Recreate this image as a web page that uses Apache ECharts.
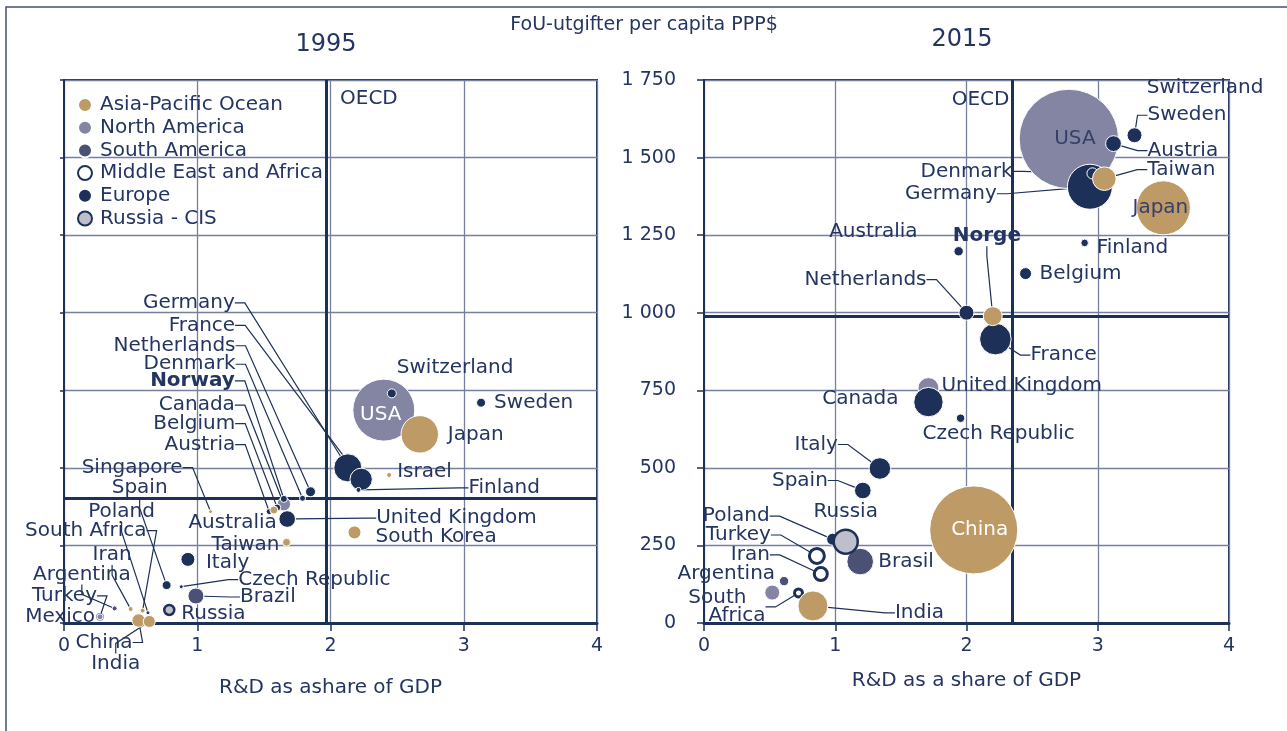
<!DOCTYPE html>
<html><head><meta charset="utf-8">
<script src="https://cdn.jsdelivr.net/npm/echarts@6/dist/echarts.min.js"></script>
<style>html,body{margin:0;padding:0;background:#fff}#c{width:1287px;height:731px}</style>
</head><body><div id="c"></div>
<script>
// ---------- DATA ----------
const regions = ['Asia-Pacific Ocean','North America','South America','Middle East and Africa','Europe','Russia - CIS'];
const xTickMax = 4, xTickStep = 1, yTickMax = 1750, yTickStep = 250;

// 1995: R&D share of GDP (x), R&D per capita PPP$ (y), R&D spend bn PPP$ (bubble), region index
const names1995  = ['USA','Switzerland','Sweden','Japan','Germany','France','Finland','Israel','Netherlands','Denmark','Norway','Canada','Belgium','Austria','Australia','United Kingdom','South Korea','Taiwan','Singapore','Italy','Spain','Czech Republic','Brazil','Russia','Argentina','Mexico','Turkey','Iran','South Africa','Poland','China','India'];
const share1995  = [2.40,2.46,3.13,2.67,2.13,2.23,2.21,2.44,1.85,1.79,1.65,1.65,1.60,1.54,1.575,1.675,2.18,1.67,1.10,0.93,0.77,0.88,0.99,0.79,0.38,0.27,0.27,0.50,0.59,0.63,0.56,0.64];
const capita1995 = [686,740,710,608,500,463,429,477,423,402,400,383,372,359,364,335,292,260,359,205,122,117,87,42,47,20,20,45,40,33,8,5];
const spend1995  = [200,4.2,4.2,73,41,26,1.3,1.3,5.2,1.9,2.6,9.4,2.6,1.9,3.3,14.4,8.8,3.3,0.8,10.2,4.2,0.8,13.3,5.2,1.3,1.9,1.0,1.3,1.3,0.8,9.4,7.5];
const region1995 = [1,4,4,0,4,4,4,0,4,4,4,1,4,4,0,4,0,0,0,4,4,4,2,5,2,1,3,0,0,4,0,0];
const oecd1995 = [1.97, 403];

// 2015
const names2015  = ['USA','Sweden','Austria','Denmark','Taiwan','Germany','Japan','Finland','Belgium','Australia','Netherlands','Norge','France','Canada','United Kingdom','Czech Republic','Italy','Spain','China','Poland','Russia','Brasil','Turkey','Iran','Argentina','Mexico','South Africa','India'];
const share2015  = [2.78,3.28,3.12,2.96,3.05,2.94,3.50,2.90,2.45,1.94,2.00,2.20,2.22,1.71,1.71,1.955,1.34,1.21,2.055,0.98,1.08,1.19,0.86,0.89,0.61,0.52,0.72,0.83];
const capita2015 = [1560,1572,1545,1449,1432,1406,1338,1225,1126,1198,1000,989,915,757,712,660,498,427,300,270,262,198,216,158,135,98,97,55];
const spend2015  = [515,11.7,13,6.5,29,105.6,152,3.0,7.5,4.6,11.7,18.8,52,23,45,3.7,24.3,14.4,404,7.5,30,36.9,11.7,8.8,4.6,11.7,3.3,47];
const region2015 = [1,4,4,4,0,4,0,4,4,4,4,0,4,1,4,4,4,4,0,4,5,2,3,3,2,1,3,0];
const oecd2015 = [2.354, 988];
const offChart2015 = ['Switzerland'];

// ---------- LABEL LAYOUT (offsets from bubble centre, px) ----------
const labels1995 = {
 'USA':[-3,5,'center',0],'Switzerland':[5,-26,'left',0],'Sweden':[13,0,'left',0],'Japan':[28,0,'left',0],
 'Germany':[-113,-165,'right',1],'France':[-126,-154,'right',1],'Finland':[110,-2,'left',1],'Israel':[8,-3,'left',0],
 'Netherlands':[-75,-146,'right',1],'Denmark':[-67,-134,'right',1],'Norway':[-49,-118,'right',1],'Canada':[-49,-99,'right',1],
 'Belgium':[-42,-84,'right',1],'Austria':[-34,-67,'right',1],'Australia':[3,13,'right',0],'United Kingdom':[89,-1,'left',1],
 'South Korea':[21,4,'left',0],'Taiwan':[-7,2,'right',0],'Singapore':[-28,-44,'right',1],'Italy':[18,3,'left',0],
 'Spain':[1,-97,'right',1],'Czech Republic':[57,-7,'left',1],'Brazil':[44,1,'left',1],'Russia':[12,4,'left',0],
 'Argentina':[16,-34,'right',1],'Mexico':[-5,0,'right',0],'Turkey':[-3,-21,'right',1],'Iran':[1,-54,'right',1],
 'South Africa':[4,-80,'right',1],'Poland':[7,-101,'right',1],'China':[-6,22,'right',1],'India':[-9,42,'right',1]
};
const labels2015 = {
 'USA':[6,0,'center',0],'Sweden':[13,-20,'left',1],'Austria':[34,7,'left',1],'Denmark':[-80,-2,'right',1],
 'Taiwan':[43,-9,'left',1],'Germany':[-93,7,'right',1],'Japan':[-3,0,'center',0],'Finland':[12,5,'left',0],
 'Belgium':[14,0,'left',0],'Australia':[-41,-19,'right',0],'Netherlands':[-40,-33,'right',1],'Norge':[-40,-80,'left',1],
 'France':[35,16,'left',1],'Canada':[-30,11,'right',0],'United Kingdom':[13,-16,'left',0],'Czech Republic':[-38,16,'left',0],
 'Italy':[-42,-24,'right',1],'Spain':[-35,-10,'right',1],'China':[6,0,'center',0],'Poland':[-63,-23,'right',1],
 'Russia':[0,-30,'center',0],'Brasil':[18,0,'left',0],'Turkey':[-46,-21,'right',1],'Iran':[-51,-19,'right',1],
 'Argentina':[-9,-7,'right',0],'South Africa':[-33,14,'right',1],'India':[82,7,'left',1]
};
const labelText = {'2015|South Africa':'South   \nAfrica'};
const boldNames = ['Norway','Norge'];
const insideColor = {'1995|USA':'#ffffff','2015|China':'#ffffff','2015|USA':'#34406a','2015|Japan':'#34406a'};

// ---------- STYLE ----------
const FONT = 'DejaVu Sans';
const NAVY = '#1d3158';
const TEXT = '#243561';
const GRIDC = '#76809e';
const fills = ['#bd9a66','#8485a3','#4b5075','#ffffff','#1d3158','#bfbecc'];
const borders = [['#ffffff',1],['#ffffff',1],['#ffffff',1],[NAVY,3],['#ffffff',1],[NAVY,2.5]];
const drawOrder = [3,1,4,0,2,5];
const diam = v => 4.38*Math.sqrt(v);

const seriesCfg = [];
const series = [];

function build(gi, year, names, xs, ys, vs, reg, labs, oecd, oecdLabel, extraLabels) {
  drawOrder.forEach((r, k) => {
    const idx = names.map((n,i)=>i).filter(i=>reg[i]===r).sort((a,b)=>vs[b]-vs[a]);
    seriesCfg.push({names: idx.map(i=>names[i]), labs});
    const data = idx.map(i => {
      const nm = names[i];
      const c = labs[nm];
      const key = year+'|'+nm;
      const item = {name: nm, value: [xs[i], ys[i], vs[i]]};
      item.label = {show: !!c, formatter: labelText[key] || nm};
      if (boldNames.includes(nm)) item.label.fontWeight = 'bold';
      if (insideColor[key]) item.label.color = insideColor[key];
      if (key === '2015|South Africa') item.label.lineHeight = 18;
      if (c && c[3]) item.labelLine = {show: true};
      return item;
    });
    const s = {
      type: 'scatter', name: regions[r], xAxisIndex: gi, yAxisIndex: gi, data,
      symbol: 'circle', symbolSize: d => diam(d[2]), silent: true,
      itemStyle: {color: fills[r], borderColor: borders[r][0], borderWidth: borders[r][1], opacity: 1},
      label: {show: true, fontFamily: FONT, fontSize: 20, color: TEXT},
      labelLine: {show: false, length2: 10, lineStyle: {color: NAVY, width: 1.2}},
      labelLayout: function (p) {
        const sc = seriesCfg[p.seriesIndex];
        const c = sc.labs[sc.names[p.dataIndex]];
        if (!c) return {};
        const cx = p.rect.x + p.rect.width/2, cy = p.rect.y + p.rect.height/2;
        return {x: cx + c[0], y: cy + c[1], align: c[2], verticalAlign: 'middle'};
      },
      emphasis: {disabled: true}
    };
    if (k === 0) {
      s.markLine = {silent: true, symbol: 'none', z: 1, animation: false,
        lineStyle: {color: NAVY, width: 3, type: 'solid'}, label: {show: false},
        data: [{xAxis: oecd[0]}, {yAxis: oecd[1]}]};
      const mp = [{name: 'OECD', coord: [oecd[0], oecdLabel.y], label: {position: oecdLabel.pos, distance: oecdLabel.dist}}];
      extraLabels.forEach(e => mp.push({name: e.name, coord: e.coord, label: {position: 'right', distance: 0}}));
      s.markPoint = {silent: true, symbol: 'circle', symbolSize: 1, animation: false,
        itemStyle: {color: 'rgba(0,0,0,0)'},
        label: {show: true, formatter: '{b}', fontFamily: FONT, fontSize: 20, color: TEXT},
        data: mp};
    }
    series.push(s);
  });
}

build(0, '1995', names1995, share1995, capita1995, spend1995, region1995, labels1995, oecd1995,
      {y: 1689, pos: 'right', dist: 13}, []);
build(1, '2015', names2015, share2015, capita2015, spend2015, region2015, labels2015, oecd2015,
      {y: 1685, pos: 'left', dist: 3}, [{name: offChart2015[0], coord: [3.37, 1724]}]);

const thousands = v => String(v).replace(/\B(?=(\d{3})+(?!\d))/g, ' ');

function xAx(gi, name, gap) {
  return {gridIndex: gi, type: 'value', min: 0, max: xTickMax, interval: xTickStep,
    name, nameLocation: 'middle', nameGap: gap,
    nameTextStyle: {fontFamily: FONT, fontSize: 20, color: TEXT},
    axisLine: {show: true, lineStyle: {color: NAVY, width: 3}},
    axisTick: {show: true, length: 8, lineStyle: {color: NAVY, width: 1.5}},
    axisLabel: {fontFamily: FONT, fontSize: 19, color: TEXT, margin: 14},
    splitLine: {show: true, lineStyle: {color: GRIDC, width: 1.3}}};
}
function yAx(gi, showLabels) {
  return {gridIndex: gi, type: 'value', min: 0, max: yTickMax, interval: yTickStep,
    axisLine: {show: true, lineStyle: {color: NAVY, width: 2}},
    axisTick: {show: true, length: showLabels ? 7 : 4, lineStyle: {color: NAVY, width: 1.5}},
    axisLabel: {show: showLabels, fontFamily: FONT, fontSize: 19, color: TEXT, margin: 28, formatter: thousands},
    splitLine: {show: true, lineStyle: {color: GRIDC, width: 1.3}}};
}

const option = {
  animation: false,
  backgroundColor: '#ffffff',
  grid: [
    {left: 64, top: 80, width: 533, height: 543, show: true, borderColor: NAVY, borderWidth: 2, backgroundColor: 'transparent'},
    {left: 704, top: 80, width: 525, height: 543, show: true, borderColor: NAVY, borderWidth: 2, backgroundColor: 'transparent'}
  ],
  xAxis: [xAx(0, 'R&D as ashare of GDP', 55), xAx(1, 'R&D as a share of GDP', 48)],
  yAxis: [yAx(0, false), yAx(1, true)],
  legend: {
    data: regions, left: 77, top: 95, orient: 'vertical', padding: 0,
    itemWidth: 20, itemHeight: 14, itemGap: 2.7, icon: 'circle', selectedMode: false,
    textStyle: {fontFamily: FONT, fontSize: 20, color: TEXT, lineHeight: 20}
  },
  graphic: [
    {type: 'rect', silent: true, z: -1, shape: {x: 6, y: 7, width: 1300, height: 740},
     style: {fill: 'none', stroke: '#44506f', lineWidth: 1.5}},
    {type: 'text', silent: true, x: 644, y: 25,
     style: {text: 'FoU-utgifter per capita PPP$', fontFamily: FONT, fontSize: 19, fill: TEXT, align: 'center', verticalAlign: 'middle'}},
    {type: 'text', silent: true, x: 326, y: 45,
     style: {text: '1995', fontFamily: FONT, fontSize: 24, fill: TEXT, align: 'center', verticalAlign: 'middle'}},
    {type: 'text', silent: true, x: 962, y: 40,
     style: {text: '2015', fontFamily: FONT, fontSize: 24, fill: TEXT, align: 'center', verticalAlign: 'middle'}}
  ],
  series
};
const chart = echarts.init(document.getElementById('c'));
chart.setOption(option);
</script>
</body></html>
